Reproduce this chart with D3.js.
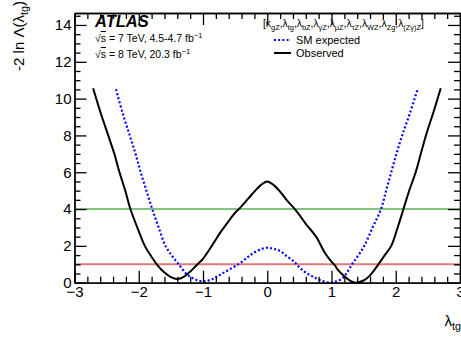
<!DOCTYPE html>
<html><head><meta charset="utf-8">
<script src="https://cdn.jsdelivr.net/npm/d3@7"></script>
<style>body{margin:0;background:#fff}svg{display:block}text{font-family:"Liberation Sans",Arial,sans-serif}</style>
</head><body><svg id="c" width="461" height="340"></svg>
<script>
// Observed (black solid)
const obsX = [-2.71,-2.6,-2.475,-2.38,-2.3,-2.21,-2.13,-2.0,-1.905,-1.8,-1.72,-1.6,-1.5,-1.4,-1.3,-1.2,-1.1,-1.05,-1.0,-0.9,-0.8,-0.74,-0.6,-0.5,-0.44,-0.3,-0.2,-0.1,0,0.1,0.2,0.3,0.43,0.5,0.6,0.76,0.9,1.0,1.05,1.1,1.2,1.3,1.38,1.5,1.6,1.73,1.83,1.93,2.03,2.12,2.2,2.31,2.39,2.47,2.59,2.70];
const obsY = [10.56,9.3,8.0,7.0,6.0,5.0,4.0,2.8,2.0,1.4,1.0,0.55,0.3,0.2,0.32,0.6,0.95,1.12,1.3,1.8,2.35,2.68,3.35,3.8,4.0,4.55,4.95,5.3,5.5,5.3,4.95,4.5,4.0,3.68,3.2,2.5,1.6,1.15,0.95,0.7,0.35,0.08,0.0,0.12,0.4,1.0,1.5,2.0,3.0,4.0,4.9,6.0,7.0,8.0,9.3,10.56];
// SM expected (blue dotted)
const expX = [-2.355,-2.25,-2.14,-2.05,-1.97,-1.88,-1.79,-1.69,-1.584,-1.48,-1.377,-1.25,-1.1,-0.98,-0.85,-0.74,-0.6,-0.43,-0.3,-0.22,-0.1,0,0.1,0.19,0.3,0.42,0.5,0.6,0.71,0.85,0.99,1.08,1.17,1.25,1.33,1.42,1.51,1.64,1.77,1.85,1.93,2.01,2.10,2.22,2.34];
const expY = [10.51,9.2,8.0,7.0,6.0,5.0,4.0,3.0,2.0,1.45,1.0,0.45,0.15,0.08,0.2,0.42,0.7,1.05,1.4,1.6,1.82,1.9,1.84,1.74,1.45,1.14,0.84,0.55,0.33,0.1,0.0,0.08,0.24,0.6,1.05,1.5,2.0,3.0,4.0,5.0,6.0,7.0,8.0,9.2,10.51];
const refLevels = [1, 4];
const refColors = ["#e07a7a", "#55b055"];
const xTicks = [-3,-2,-1,0,1,2,3];
const yTicks = [0,2,4,6,8,10,12,14];
const xDomain = [-3, 3];
const yDomain = [0, 14.65];

const svg = d3.select("#c");
const L = 74.5, R = 460, T = 13, B = 282.7;
const x = d3.scaleLinear().domain(xDomain).range([L, R]);
const y = d3.scaleLinear().domain(yDomain).range([B, T]);

const xMinor = d3.range(-3, 3.001, 0.2).map(v => +v.toFixed(2)).filter(v => Math.abs(v - Math.round(v)) > 1e-6);
const yMinor = d3.range(0, 14.65, 0.5).filter(v => v % 2 !== 0);

function styleAxis(g){ g.selectAll("path,line").attr("stroke","#000").attr("stroke-width",1.3); g.selectAll("text").attr("font-size",15).attr("fill","#000").attr("font-family","Liberation Sans, Arial, sans-serif"); }

// reference lines
refLevels.forEach((lv,i)=>{
  svg.append("line").attr("x1",x(xDomain[0])).attr("x2",x(xDomain[1])).attr("y1",y(lv)).attr("y2",y(lv))
    .attr("stroke",refColors[i]).attr("stroke-width",i===0?2:1.6);
});

const line = d3.line().x(d=>x(d[0])).y(d=>y(d[1])).curve(d3.curveCatmullRom.alpha(0.5));
svg.append("path").attr("d", line(expX.map((v,i)=>[v,expY[i]]))).attr("fill","none")
  .attr("stroke","#0000ff").attr("stroke-width",2.2).attr("stroke-dasharray","2,2.2");
svg.append("path").attr("d", line(obsX.map((v,i)=>[v,obsY[i]]))).attr("fill","none")
  .attr("stroke","#000").attr("stroke-width",2);

// axes
const fmt = d3.format("d");
svg.append("g").attr("transform",`translate(0,${B})`).call(d3.axisBottom(x).tickValues(xTicks).tickFormat(fmt).tickSize(-12).tickSizeOuter(0).tickPadding(4)).call(styleAxis);
svg.append("g").attr("transform",`translate(0,${B})`).call(d3.axisBottom(x).tickValues(xMinor).tickFormat("").tickSize(-6).tickSizeOuter(0)).call(styleAxis);
svg.append("g").attr("transform",`translate(0,${T})`).call(d3.axisTop(x).tickValues(xTicks).tickFormat("").tickSize(-12).tickSizeOuter(0)).call(styleAxis);
svg.append("g").attr("transform",`translate(0,${T})`).call(d3.axisTop(x).tickValues(xMinor).tickFormat("").tickSize(-6).tickSizeOuter(0)).call(styleAxis);
svg.append("g").attr("transform",`translate(${L},0)`).call(d3.axisLeft(y).tickValues(yTicks).tickFormat(fmt).tickSize(-12).tickSizeOuter(0).tickPadding(3)).call(styleAxis);
svg.append("g").attr("transform",`translate(${L},0)`).call(d3.axisLeft(y).tickValues(yMinor).tickFormat("").tickSize(-6).tickSizeOuter(0)).call(styleAxis);
svg.append("g").attr("transform",`translate(${R},0)`).call(d3.axisRight(y).tickValues(yTicks).tickFormat("").tickSize(-12).tickSizeOuter(0)).call(styleAxis);
svg.append("g").attr("transform",`translate(${R},0)`).call(d3.axisRight(y).tickValues(yMinor).tickFormat("").tickSize(-6).tickSizeOuter(0)).call(styleAxis);

// rich text helper: segs = [[text, mode]] mode: "", "sub", "sup", "ovl"
function rich(sel, segs, size){
  let prev = "";
  segs.forEach(([t,m])=>{
    const ts = sel.append("tspan").text(t);
    let dy = 0;
    if(prev==="sub") dy -= size*0.28;
    if(prev==="sup") dy += size*0.4;
    if(m==="sub"){ ts.attr("font-size", size*0.72); dy += size*0.28; }
    else if(m==="sup"){ ts.attr("font-size", size*0.72); dy -= size*0.4; }
    else { ts.attr("font-size", size); }
    if(m==="ovl") ts.style("text-decoration","overline");
    if(dy) ts.attr("dy", dy);
    prev = m;
  });
}

// axis titles
const xt = svg.append("text").attr("x",461).attr("y",326).attr("text-anchor","end");
rich(xt, [["λ",""],["tg","sub"]], 15);
const yt = svg.append("text").attr("transform","translate(24,1) rotate(-90)").attr("text-anchor","end");
rich(yt, [["-2 ln Λ(λ",""],["tg","sub"],[")",""]], 15);

// ATLAS label
svg.append("text").attr("x",95).attr("y",27).attr("font-size",16.5).attr("font-weight","bold").attr("font-style","italic").text("ATLAS");
const e1 = svg.append("text").attr("x",95).attr("y",42);
rich(e1, [["√",""],["s","ovl"],[" = 7 TeV, 4.5-4.7 fb",""],["−1","sup"]], 10.5);
const e2 = svg.append("text").attr("x",95).attr("y",58);
rich(e2, [["√",""],["s","ovl"],[" = 8 TeV, 20.3 fb",""],["−1","sup"]], 10.5);

// legend
const lh = svg.append("text").attr("x",263).attr("y",27);
rich(lh, [["[κ",""],["gZ","sub"],[",λ",""],["tg","sub"],[",λ",""],["bZ","sub"],[",λ",""],["γZ","sub"],[",λ",""],["μZ","sub"],[",λ",""],["τZ","sub"],[",λ",""],["WZ","sub"],[",λ",""],["Zg","sub"],[",λ",""],["(Zγ)Z","sub"],["]",""]], 10.3);
svg.append("line").attr("x1",274).attr("x2",291).attr("y1",40).attr("y2",40)
  .attr("stroke","#0000ff").attr("stroke-width",2.2).attr("stroke-dasharray","2,2.2");
svg.append("text").attr("x",296).attr("y",44).attr("font-size",11).text("SM expected");
svg.append("line").attr("x1",274).attr("x2",291).attr("y1",53).attr("y2",53)
  .attr("stroke","#000").attr("stroke-width",2);
svg.append("text").attr("x",296).attr("y",57).attr("font-size",11).text("Observed");
</script></body></html>
